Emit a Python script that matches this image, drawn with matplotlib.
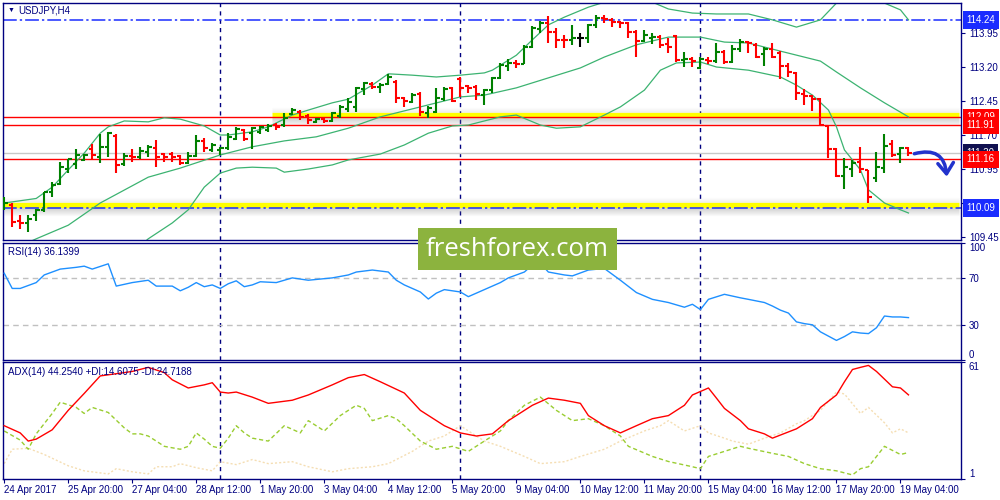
import matplotlib.pyplot as plt
import numpy as np
from matplotlib.patches import FancyArrowPatch, Rectangle
from matplotlib.transforms import offset_copy, blended_transform_factory

plt.rcParams['font.family'] = ['Liberation Sans', 'DejaVu Sans']
plt.rcParams['font.size'] = 7

# USDJPY H4 bars (open, high, low, close)
opens = [110.10, 110.16, 109.80, 109.76, 109.94, 110.05, 110.44, 110.62, 110.95, 111.06,
         111.15, 111.39, 111.21, 111.44, 111.68, 111.06, 111.24, 111.21, 111.33, 111.41,
         111.28, 111.28, 111.24, 111.08, 111.24, 111.57, 111.37, 111.37, 111.41, 111.61,
         111.81, 111.74, 111.77, 111.81, 111.92, 111.92, 112.17, 112.21, 112.12, 111.99,
         112.05, 112.01, 112.12, 112.28, 112.32, 112.72, 112.83, 112.76, 112.83, 112.87,
         112.52, 112.43, 112.61, 112.19, 112.21, 112.50, 112.74, 112.94, 112.78, 112.76,
         112.58, 112.69, 112.96, 113.22, 113.29, 113.27, 113.64, 114.04, 114.17, 113.97,
         113.80, 113.79, 113.84, 113.84, 114.13, 114.28, 114.24, 114.19, 114.17, 113.97,
         113.77, 113.84, 113.86, 113.71, 113.88, 113.35, 113.38, 113.17, 113.35, 113.33,
         113.53, 113.31, 113.60, 113.75, 113.68, 113.49, 113.60, 113.51, 113.22, 113.07,
         112.61, 112.56, 112.50, 111.90, 111.39, 110.80, 110.95, 111.10, 110.93, 110.75,
         110.97, 111.50, 111.28, 111.41]
highs = [110.33, 110.20, 109.94, 109.94, 110.07, 110.44, 110.66, 111.10, 111.17, 111.39,
         111.28, 111.50, 111.72, 111.77, 111.72, 111.30, 111.39, 111.44, 111.48, 111.59,
         111.30, 111.33, 111.26, 111.33, 111.70, 111.63, 111.52, 111.44, 111.74, 111.88,
         111.83, 111.88, 111.90, 111.94, 111.96, 112.19, 112.30, 112.25, 112.17, 112.08,
         112.08, 112.21, 112.36, 112.52, 112.76, 112.87, 112.87, 112.85, 113.05, 112.91,
         112.54, 112.63, 112.65, 112.34, 112.74, 112.76, 112.76, 112.98, 112.80, 112.80,
         112.72, 112.98, 113.29, 113.38, 113.35, 113.69, 114.10, 114.22, 114.33, 114.06,
         113.90, 114.13, 113.95, 114.15, 114.35, 114.35, 114.28, 114.21, 114.19, 114.02,
         114.02, 113.95, 113.90, 113.84, 113.90, 113.53, 113.42, 113.42, 113.42, 113.73,
         113.57, 113.68, 113.82, 113.77, 113.73, 113.64, 113.73, 113.55, 113.29, 113.09,
         112.72, 112.58, 112.52, 111.92, 111.41, 111.19, 111.15, 111.44, 110.93, 111.33,
         111.72, 111.59, 111.44, 111.44]
lows = [110.05, 109.67, 109.63, 109.56, 109.80, 110.00, 110.33, 110.60, 110.86, 110.95,
        111.13, 111.15, 111.08, 111.21, 110.86, 111.02, 111.10, 111.17, 111.21, 110.99,
        111.10, 111.10, 111.04, 111.06, 111.21, 111.33, 111.33, 111.26, 111.37, 111.59,
        111.57, 111.39, 111.72, 111.77, 111.81, 111.88, 112.14, 112.03, 111.94, 111.96,
        111.97, 111.99, 112.08, 112.21, 112.21, 112.58, 112.72, 112.63, 112.80, 112.41,
        112.32, 112.41, 112.12, 112.08, 112.19, 112.45, 112.43, 112.54, 112.63, 112.47,
        112.36, 112.63, 112.94, 113.11, 113.18, 113.26, 113.62, 113.95, 113.73, 113.62,
        113.62, 113.69, 113.64, 113.73, 114.06, 114.17, 114.08, 114.06, 113.84, 113.42,
        113.75, 113.71, 113.62, 113.51, 113.31, 113.20, 113.20, 113.15, 113.27, 113.29,
        113.27, 113.29, 113.53, 113.51, 113.40, 113.22, 113.40, 112.94, 112.98, 112.47,
        112.36, 112.23, 111.90, 111.19, 110.77, 110.51, 110.77, 110.86, 110.20, 110.66,
        110.86, 111.21, 111.08, 111.24]
closes = [110.20, 109.78, 109.76, 109.85, 110.05, 110.44, 110.60, 110.99, 111.17, 111.26,
          111.26, 111.26, 111.44, 111.74, 111.04, 111.24, 111.21, 111.35, 111.44, 111.21,
          111.21, 111.21, 111.08, 111.24, 111.57, 111.41, 111.48, 111.41, 111.66, 111.83,
          111.61, 111.85, 111.87, 111.90, 111.87, 112.08, 112.26, 112.10, 112.03, 112.05,
          112.01, 112.19, 112.32, 112.43, 112.74, 112.85, 112.76, 112.80, 112.98, 112.52,
          112.45, 112.58, 112.21, 112.30, 112.52, 112.72, 112.45, 112.74, 112.74, 112.61,
          112.69, 112.96, 113.24, 113.29, 113.27, 113.64, 114.06, 114.17, 113.97, 113.80,
          113.79, 113.84, 113.84, 114.13, 114.28, 114.26, 114.19, 114.17, 113.97, 113.77,
          113.90, 113.86, 113.68, 113.64, 113.35, 113.38, 113.33, 113.38, 113.33, 113.53,
          113.31, 113.60, 113.75, 113.73, 113.42, 113.60, 113.42, 113.22, 113.09, 112.63,
          112.56, 112.50, 111.92, 111.39, 110.80, 111.00, 111.08, 110.95, 110.33, 111.00,
          111.46, 111.26, 111.41, 111.30]

# Bollinger bands (20, 2) read at bar positions
ub_bar = [0, 4, 6, 8, 10, 12, 13, 15, 18, 20, 22, 25, 27, 28, 31, 33, 36, 38, 41, 43, 46, 48,
          51, 54, 57, 60, 61, 64, 66, 68, 70, 73, 75, 78, 81, 83, 86, 89, 93, 96, 99, 102,
          104, 106, 110, 112, 113]
ub_val = [110.20, 110.30, 110.55, 110.93, 111.30, 111.74, 111.88, 112.01, 111.99, 112.08,
          112.05, 111.90, 111.70, 111.70, 111.77, 111.88, 112.14, 112.25, 112.41, 112.49,
          112.80, 113.05, 113.02, 112.98, 113.02, 113.07, 113.13, 113.46, 113.80, 114.13,
          114.30, 114.52, 114.63, 114.80, 114.63, 114.48, 114.39, 114.37, 114.37, 114.24,
          114.08, 114.24, 114.61, 114.90, 114.61, 114.46, 114.24]
mb_bar = [2, 4, 8, 12, 18, 22, 27, 31, 35, 39, 43, 47, 52, 57, 60, 64, 68, 72, 75, 79, 83,
          87, 90, 93, 97, 102, 104, 107, 110, 113]
mb_val = [109.25, 109.41, 109.71, 110.20, 110.77, 110.97, 111.26, 111.44, 111.57, 111.66,
          111.85, 112.10, 112.32, 112.54, 112.58, 112.74, 112.96, 113.18, 113.42, 113.69,
          113.86, 113.86, 113.75, 113.73, 113.55, 113.33, 113.09, 112.74, 112.41, 112.10]
lb_bar = [16, 18, 21, 23, 25, 27, 29, 31, 34, 35, 38, 41, 43, 47, 50, 53, 56, 58, 62, 64,
          67, 69, 72, 75, 77, 80, 82, 84, 87, 89, 93, 97, 99, 101, 103, 104, 105, 107, 108,
          110, 112, 113]
lb_val = [109.10, 109.41, 109.76, 110.05, 110.55, 110.86, 110.97, 110.99, 110.97, 110.88,
          110.95, 111.04, 111.15, 111.28, 111.48, 111.74, 111.90, 111.92, 112.10, 112.14,
          111.92, 111.85, 111.88, 112.14, 112.32, 112.69, 113.13, 113.29, 113.31, 113.20,
          113.13, 112.98, 112.80, 112.58, 112.25, 111.88, 111.37, 110.93, 110.49, 110.20,
          110.05, 109.98]

# RSI(14)
rsi_bar = [0, 1, 2, 4, 5, 7, 9, 10, 11, 13, 14, 16, 18, 19, 21, 22, 23, 24, 25, 26, 27, 28,
           29, 30, 31, 32, 34, 36, 38, 41, 43, 44, 46, 48, 49, 50, 52, 53, 54, 55, 57, 58,
           60, 62, 63, 65, 66, 67, 68, 70, 71, 73, 75, 77, 79, 81, 83, 85, 86, 87, 88, 90,
           92, 93, 95, 96, 97, 98, 99, 100, 101, 102, 104, 105, 106, 107, 108, 109, 110,
           111, 112, 113]
rsi_val = [74, 61, 61, 66, 72.5, 77.5, 79, 80, 77.5, 82, 63, 66, 68, 63, 63, 59, 62, 66,
           62.5, 64, 61, 65, 67.5, 62.5, 64, 66.7, 66, 70, 68, 70, 72.5, 75, 76.7, 75, 68,
           64, 58, 52, 57, 60, 58, 54, 60, 66, 70, 75, 81, 82.5, 75, 72.5, 71.7, 76.7, 78,
           68, 57.5, 51.7, 49, 45, 47.5, 43, 51.7, 56, 53, 51.7, 49, 46, 42.5, 40, 32.5, 31,
           30, 24, 16.7, 20, 24, 23, 22.5, 27.5, 37.5, 36.7, 36.7, 36.14]

# ADX(14), +DI, -DI
adx_bar = [0, 2, 3, 4, 6, 8, 10, 12, 15, 16, 18, 20, 21, 23, 25, 26, 27, 28, 29, 31, 33,
           36, 38, 41, 43, 45, 47, 50, 52, 55, 57, 59, 61, 63, 66, 68, 70, 72, 73, 75, 77,
           79, 81, 83, 85, 86, 88, 89, 90, 92, 93, 95, 96, 97, 99, 101, 102, 104, 105, 106,
           107, 108, 109, 111, 112, 113]
adx_val = [28.4, 24.7, 20.5, 21.5, 26.3, 36.3, 45, 54, 55.7, 56.3, 58.4, 55.7, 52, 47.8,
           49.4, 50.5, 45.7, 45.2, 45.7, 43.1, 39.9, 41.5, 44.2, 49.4, 53.1, 54.7, 51, 45.2,
           36.3, 28.4, 24.7, 23.1, 24.2, 31, 38.9, 42.6, 41.5, 39.9, 33.6, 28.4, 24.7, 28.4,
           32, 33.6, 38.9, 44.2, 47.8, 42.6, 37.3, 31, 26.8, 24.2, 22, 23.6, 26.8, 32, 37.8,
           44.2, 51, 57.3, 58.4, 59.4, 56.3, 48.4, 47.8, 44.25]
pdi_bar = [0, 2, 3, 4, 6, 7, 9, 10, 11, 13, 15, 16, 17, 18, 19, 20, 22, 23, 24, 25, 26, 27,
           28, 29, 30, 31, 33, 35, 37, 38, 40, 42, 43, 44, 45, 46, 48, 49, 50, 52, 54, 56,
           58, 60, 62, 63, 65, 67, 69, 71, 73, 75, 77, 78, 81, 83, 86, 87, 88, 90, 92, 93,
           96, 98, 100, 102, 104, 106, 107, 108, 110, 112, 113]
pdi_val = [25.7, 21, 16.3, 24.2, 34.7, 40.5, 37.8, 34.7, 37.8, 35.2, 27.3, 24.2, 24.2,
           23.1, 20.5, 17.8, 16.3, 17.8, 24.7, 21.5, 17.8, 16.8, 22, 28.4, 24.7, 22, 20.5,
           28.4, 24.7, 31, 25.7, 33.6, 36.3, 38.9, 37.3, 31, 33.6, 32, 28.4, 20.5, 16.3,
           17.8, 15.2, 20.5, 25.7, 31, 38.9, 43.1, 36.3, 31, 32, 28.4, 23.1, 17.8, 12.6, 10,
           7.3, 6.3, 12.6, 15.2, 17.8, 16.8, 14.2, 12.6, 8.9, 6.3, 5.2, 3.1, 6.3, 7.3, 17.8,
           13.6, 14.61]
mdi_bar = [0, 1, 3, 5, 8, 10, 13, 14, 16, 18, 19, 21, 22, 24, 26, 27, 29, 31, 33, 36, 38,
           41, 43, 46, 48, 51, 53, 55, 57, 58, 60, 62, 65, 67, 70, 72, 75, 77, 80, 82, 83,
           85, 87, 88, 90, 91, 93, 95, 97, 99, 100, 102, 104, 105, 107, 108, 110, 111, 112,
           113]
mdi_val = [8.9, 16.3, 16.8, 13.6, 7.8, 5.2, 3.6, 6.3, 4.7, 3.6, 7.3, 7.3, 8.9, 6.8, 5.2,
           9.9, 8.4, 11, 8.9, 9.9, 7.3, 4.7, 6.3, 7.3, 8.9, 15.2, 20.5, 23.1, 28.4, 25.7,
           20.5, 17.8, 12.6, 8.9, 9.9, 12.6, 16.3, 20.5, 25.7, 28.4, 31, 25.7, 28.4, 24.7,
           22, 20.5, 18.9, 22, 24.7, 29.4, 31, 36.3, 45.7, 44.7, 34.7, 37.8, 29.9, 24.7,
           26.8, 24.72]

# levels drawn on the chart
red_levels = [112.09, 111.91, 111.16]
blue_levels = [114.24, 110.09]
bid = 111.30
yellow_levels = [112.14, 110.15]
yellow_start = [33.5, -0.2]
separators = [27, 57, 87]

tick_bars = list(range(0, 113, 8))
tick_labels = ['24 Apr 2017', '25 Apr 20:00', '27 Apr 04:00', '28 Apr 12:00', '1 May 20:00',
               '3 May 04:00', '4 May 12:00', '5 May 20:00', '9 May 04:00', '10 May 12:00',
               '11 May 20:00', '15 May 04:00', '16 May 12:00', '17 May 20:00', '19 May 04:00']
price_ticks = [113.95, 113.20, 112.45, 111.70, 110.95, 110.20, 109.45]

navy = '#000080'
fig = plt.figure(figsize=(10, 5), dpi=100)
ax1 = fig.add_axes([0.003, 0.521, 0.9575, 0.473])
ax2 = fig.add_axes([0.003, 0.28, 0.9575, 0.2346])
ax3 = fig.add_axes([0.003, 0.042, 0.9575, 0.2334])

for ax in (ax1, ax2, ax3):
    ax.set_xlim(-0.15, 119.5)
    for s in ax.spines.values():
        s.set_color(navy)
        s.set_linewidth(1)
    ax.yaxis.tick_right()
    ax.tick_params(axis='y', direction='out', length=3, width=0.8, colors=navy, pad=3)
    ax.tick_params(axis='x', bottom=False, labelbottom=False)
    for b in separators:
        ax.axvline(b, color=navy, lw=1, ls=(0, (3, 3)), zorder=1)

# ---- price panel ----
ax1.set_ylim(109.395, 114.612)
ax1.set_yticks(price_ticks)
ax1.set_yticklabels(['%.2f' % p for p in price_ticks])

ax1.axhline(bid, color='#c8c8c8', lw=1, zorder=1)
for lvl, x0 in zip(yellow_levels, yellow_start):
    for k in range(1, 9):
        tr = offset_copy(ax1.transData, fig=fig, y=-(2 + k), units='dots')
        ax1.plot([x0, 119.3], [lvl, lvl], color='grey', alpha=0.3 * (1 - k / 9), lw=1,
                 transform=tr, zorder=1.2, solid_capstyle='butt')
    for k in range(1, 6):
        tr = offset_copy(ax1.transData, fig=fig, y=(2 + k), units='dots')
        ax1.plot([x0, 119.3], [lvl, lvl], color='grey', alpha=0.12 * (1 - k / 6), lw=1,
                 transform=tr, zorder=1.2, solid_capstyle='butt')
    ax1.plot([x0, 119.3], [lvl, lvl], color='#ffff00', lw=3.8, zorder=1.5,
             solid_capstyle='butt')
for lvl in red_levels:
    ax1.axhline(lvl, color='red', lw=1, zorder=1.8)
for lvl in blue_levels:
    ax1.axhline(lvl, color='#1a2cff', lw=1.1, ls=(0, (9, 2, 1.5, 2)), zorder=1.8)

bb_col = '#3cb371'
ax1.plot(ub_bar, ub_val, color=bb_col, lw=0.9, zorder=2)
ax1.plot(mb_bar, mb_val, color=bb_col, lw=0.9, zorder=2)
ax1.plot(lb_bar, lb_val, color=bb_col, lw=0.9, zorder=2)

o, h, l, c = map(np.array, (opens, highs, lows, closes))
x = np.arange(len(o))
cols = np.where(c > o, 'green', np.where(c < o, 'red', 'black'))
ax1.vlines(x, l, h, colors=cols, lw=1.5, zorder=3)
ax1.hlines(o, x - 0.42, x, colors=cols, lw=1.5, zorder=3)
ax1.hlines(c, x, x + 0.42, colors=cols, lw=1.5, zorder=3)

ax1.text(0.005, 0.97, '\u25bc', fontsize=5, color=navy, transform=ax1.transAxes, va='center')
ax1.text(0.016, 0.97, 'USDJPY,H4', color=navy, transform=ax1.transAxes, va='center')

# price labels on the right axis
lab_tr = blended_transform_factory(ax1.transAxes, ax1.transData)
for val, col in [(114.24, '#1a2cff'), (bid, '#101050'), (111.16, 'red'),
                 (112.09, 'red'), (111.91, 'red'), (110.09, '#1a2cff')]:
    ax1.text(1.0065, val, '%.2f' % val, color='white', transform=lab_tr, va='center',
             ha='left', clip_on=False, zorder=10,
             bbox=dict(boxstyle='square,pad=0.38', fc=col, ec='none'))

# forecast arrow
arrow = FancyArrowPatch((113.4, 111.27), (117.8, 110.72), connectionstyle='arc3,rad=-0.65',
                        arrowstyle='->,head_length=0.55,head_width=0.4', mutation_scale=14,
                        color='#2233cc', lw=2.5, zorder=6)
ax1.add_patch(arrow)

# ---- RSI panel ----
ax2.set_ylim(0, 100)
ax2.set_yticks([0, 30, 70, 100])
for lvl in (30, 70):
    ax2.axhline(lvl, color='#c0c0c0', lw=1, ls=(0, (4, 3)), zorder=1)
ax2.plot(rsi_bar, rsi_val, color='#1e90ff', lw=1, zorder=3)
labs = ax2.get_yticklabels()
labs[0].set_va('bottom')
labs[-1].set_va('top')
ax2.text(0.005, 0.92, 'RSI(14) 36.1399', color=navy, transform=ax2.transAxes, va='center')

# ---- ADX panel ----
ax3.set_ylim(1, 61)
ax3.set_yticks([1, 61])
labs = ax3.get_yticklabels()
labs[0].set_va('bottom')
labs[-1].set_va('top')
ax3.plot(mdi_bar, mdi_val, color='#f5deb3', lw=1, ls=(0, (1.5, 1.5)), zorder=2)
ax3.plot(pdi_bar, pdi_val, color='#9acd32', lw=1, ls=(0, (3, 2)), zorder=2)
ax3.plot(adx_bar, adx_val, color='red', lw=1, zorder=3)
ax3.text(0.005, 0.92, 'ADX(14) 44.2540 +DI:14.6075 -DI:24.7188', color=navy,
         transform=ax3.transAxes, va='center')

ax3.set_xticks(tick_bars)
ax3.set_xticklabels(tick_labels)
ax3.tick_params(axis='x', bottom=True, labelbottom=True, direction='out', length=3,
                width=0.8, colors=navy, pad=1)
for lab in ax3.get_xticklabels():
    lab.set_ha('left')

# watermark
fig.patches.append(Rectangle((0.418, 1 - 270 / 500), 0.199, 42 / 500,
                             transform=fig.transFigure, fc='#8cb33e', ec='none', zorder=5))
fig.text(0.5175, 1 - 250 / 500, 'freshforex.com', color='white', fontsize=18.5,
         family=['Open Sans', 'DejaVu Sans'], ha='center', va='center', zorder=6)

fig.savefig('out.png', dpi=100)
